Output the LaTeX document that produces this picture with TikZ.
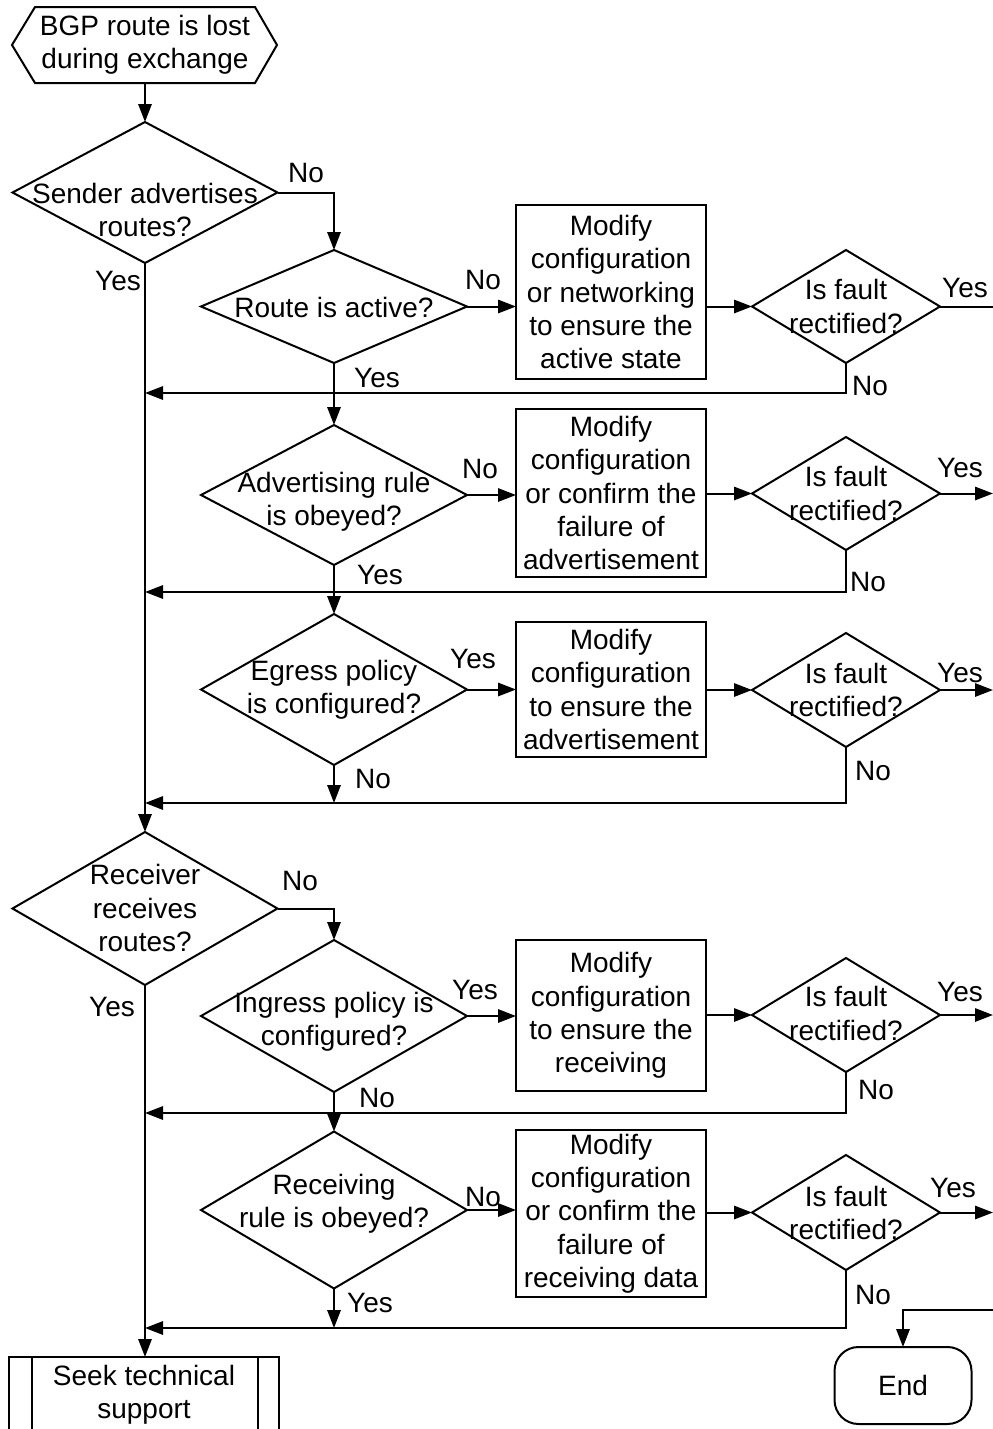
\documentclass[tikz,border=0pt]{standalone}
\usepackage{fontspec}
\setmainfont{Liberation Sans}
\usetikzlibrary{arrows.meta,shapes.geometric,calc}
\begin{document}
\begin{tikzpicture}[x=0.75pt,y=-0.75pt,line width=1.5pt,
  every node/.style={inner sep=0pt,outer sep=0pt},
  txt/.style={font=\fontsize{21}{25}\selectfont,align=center},
  decision/.style 2 args={draw,diamond,minimum width={#1*0.75pt},minimum height={#2*0.75pt}},
  action/.style={draw,rectangle,txt,minimum width={190*0.75pt},minimum height={#1*0.75pt}},
  arr/.style={-{Triangle[length=13.5pt,width=10pt]}}]
\useasboundingbox (0,0) rectangle (993,1429);
\fill[white] (0,0) rectangle (993,1429);
\clip (0,0) rectangle (993,1429);

% start terminal (hexagon drawn around the text box)
\node[txt,minimum width={220*0.75pt},minimum height={76*0.75pt}] (start) at (145,45) {BGP route is lost\\during exchange};
\draw (start.north west) -- (start.north east) -- ($(start.east)+(22,0)$) -- (start.south east)
  -- (start.south west) -- ($(start.west)+(-23,0)$) -- cycle;

% sender side decisions
\node[decision={265}{141}] (d1) at (145,192.5) {};
\node[txt] (d1t) at (145,210) {Sender advertises\\routes?};
\node[decision={266}{113}] (d2) at (334,306.5) {};
\node[txt] (d2t) at (334,307) {Route is active?};
\node[decision={266}{140}] (d3) at (334,495) {};
\node[txt] (d3t) at (334,502) {Advertising rule\\is obeyed?};
\node[decision={266}{151}] (d4) at (334,689.5) {};
\node[txt] (d4t) at (334,689.5) {Egress policy\\is configured?};

% receiver side decisions
\node[decision={265}{153}] (rcv) at (145,908.5) {};
\node[txt] (rcvt) at (145,908) {Receiver\\receives\\routes?};
\node[decision={266}{152}] (d5) at (334,1016) {};
\node[txt] (d5t) at (334,1022) {Ingress policy is\\configured?};
\node[decision={266}{157}] (d6) at (334,1210) {};
\node[txt] (d6t) at (334,1204) {Receiving\\rule is obeyed?};

% corrective actions
\node[action=174] (b1) at (611,292) {Modify\\configuration\\or networking\\to ensure the\\active state};
\node[action=168] (b2) at (611,493) {Modify\\configuration\\or confirm the\\failure of\\advertisement};
\node[action=135] (b3) at (611,689.5) {Modify\\configuration\\to ensure the\\advertisement};
\node[action=151] (b4) at (611,1015.5) {Modify\\configuration\\to ensure the\\receiving};
\node[action=167] (b5) at (611,1213.5) {Modify\\configuration\\or confirm the\\failure of\\receiving data};

% fault checks
\node[decision={188}{113}] (f1) at (846,306.5) {};
\node[decision={188}{113}] (f2) at (846,493.5) {};
\node[decision={188}{114}] (f3) at (846,690) {};
\node[decision={188}{114}] (f4) at (846,1015) {};
\node[decision={188}{115}] (f5) at (846,1212.5) {};
\node[txt] (f1t) at (846,306.5) {Is fault\\rectified?};
\node[txt] (f2t) at (846,493.5) {Is fault\\rectified?};
\node[txt] (f3t) at (846,690) {Is fault\\rectified?};
\node[txt] (f4t) at (846,1013.5) {Is fault\\rectified?};
\node[txt] (f5t) at (846,1213) {Is fault\\rectified?};

% terminals
\node[draw,txt,minimum width={270*0.75pt},minimum height={76*0.75pt}] (seek) at (144,1395) {Seek technical\\support};
\draw ([xshift=17.25pt]seek.north west) -- ([xshift=17.25pt]seek.south west);
\draw ([xshift=-15.75pt]seek.north east) -- ([xshift=-15.75pt]seek.south east);
\node[draw,txt,rounded corners=18pt,minimum width={137*0.75pt},minimum height={77*0.75pt}] (end) at (903,1385.5) {End};

% junction points on the main line and the right edge
\coordinate (r1) at (145,393);
\coordinate (r2) at (145,592);
\coordinate (r3) at (145,803);
\coordinate (r4) at (145,1113);
\coordinate (r5) at (145,1328);
\coordinate (edge) at (993,0);
\coordinate (endin) at (993,1310);

% main flow
\draw[arr] (start.south) -- (d1.north);
\draw[arr] (d1.east) -| (d2.north);
\draw[arr] (d1.south) -- (rcv.north);
\draw[arr] (d2.south) -- (d3.north);
\draw[arr] (d3.south) -- (d4.north);
\draw[arr] (d4.south) -- (d4.south |- r3);
\draw[arr] (rcv.east) -| (d5.north);
\draw[arr] (rcv.south) -- (rcv.south |- seek.north);
\draw[arr] (d5.south) -- (d6.north);
\draw[arr] (d6.south) -- (d6.south |- r5);

% into the corrective actions and the checks
\draw[arr] (d2.east) -- (d2.east -| b1.west);
\draw[arr] (d3.east) -- (d3.east -| b2.west);
\draw[arr] (d4.east) -- (d4.east -| b3.west);
\draw[arr] (d5.east) -- (d5.east -| b4.west);
\draw[arr] (d6.east) -- (d6.east -| b5.west);
\draw[arr] (f1.west -| b1.east) -- (f1.west);
\draw[arr] (f2.west -| b2.east) -- (f2.west);
\draw[arr] (f3.west -| b3.east) -- (f3.west);
\draw[arr] (f4.west -| b4.east) -- (f4.west);
\draw[arr] (f5.west -| b5.east) -- (f5.west);

% fault rectified: leave to the right
\draw (f1.east) -- (f1.east -| edge);
\draw[arr] (f2.east) -- (f2.east -| edge);
\draw[arr] (f3.east) -- (f3.east -| edge);
\draw[arr] (f4.east) -- (f4.east -| edge);
\draw[arr] (f5.east) -- (f5.east -| edge);
\draw[arr] (endin) -| (end.north);

% fault not rectified: back to the main line
\draw[arr] (f1.south) |- (r1);
\draw[arr] (f2.south) |- (r2);
\draw[arr] (f3.south) |- (r3);
\draw[arr] (f4.south) |- (r4);
\draw[arr] (f5.south) |- (r5);

% branch labels
\begin{scope}[every node/.append style={txt}]
\node (l1) at (306,173) {No};
\node (l2) at (118,281) {Yes};
\node (l3) at (483,280) {No};
\node (l4) at (965,288) {Yes};
\node (l5) at (870,386) {No};
\node (l6) at (377,378) {Yes};
\node (l7) at (480,469) {No};
\node (l8) at (960,468) {Yes};
\node (l9) at (868,582) {No};
\node (l10) at (380,575) {Yes};
\node (l11) at (473,659) {Yes};
\node (l12) at (960,673) {Yes};
\node (l13) at (873,771) {No};
\node (l14) at (373,779) {No};
\node (l15) at (300,881) {No};
\node (l16) at (112,1007) {Yes};
\node (l17) at (475,990) {Yes};
\node (l18) at (960,992) {Yes};
\node (l19) at (876,1090) {No};
\node (l20) at (377,1098) {No};
\node (l21) at (483,1197) {No};
\node (l22) at (953,1188) {Yes};
\node (l23) at (873,1295) {No};
\node (l24) at (370,1303) {Yes};
\end{scope}
\end{tikzpicture}
\end{document}
